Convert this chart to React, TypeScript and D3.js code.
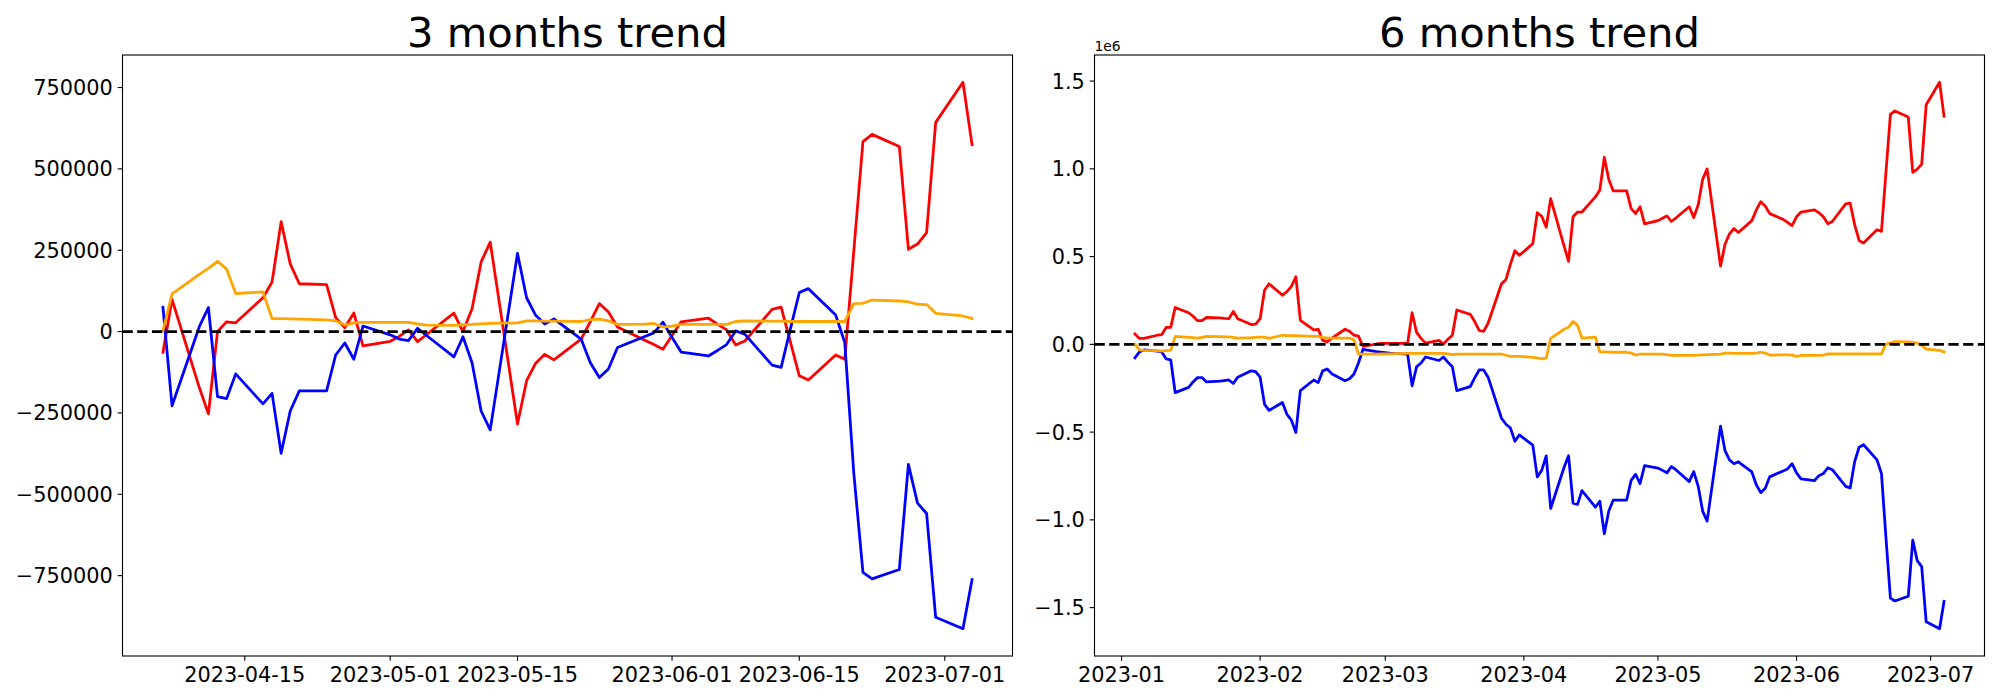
import React, { useEffect, useRef } from 'react';
import * as d3 from 'd3';

// 3 months trend
const threeMonthDates = [
  '2023-04-06', '2023-04-07', '2023-04-10', '2023-04-11', '2023-04-12', '2023-04-13', '2023-04-14',
  '2023-04-17', '2023-04-18', '2023-04-19', '2023-04-20', '2023-04-21',
  '2023-04-24', '2023-04-25', '2023-04-26', '2023-04-27', '2023-04-28',
  '2023-05-01', '2023-05-02', '2023-05-03', '2023-05-04', '2023-05-05',
  '2023-05-08', '2023-05-09', '2023-05-10', '2023-05-11', '2023-05-12',
  '2023-05-15', '2023-05-16', '2023-05-17', '2023-05-18', '2023-05-19',
  '2023-05-22', '2023-05-23', '2023-05-24', '2023-05-25', '2023-05-26',
  '2023-05-29', '2023-05-30', '2023-05-31', '2023-06-01', '2023-06-02',
  '2023-06-05', '2023-06-06', '2023-06-07', '2023-06-08', '2023-06-09',
  '2023-06-12', '2023-06-13', '2023-06-14', '2023-06-15', '2023-06-16',
  '2023-06-19', '2023-06-20', '2023-06-21', '2023-06-22', '2023-06-23',
  '2023-06-26', '2023-06-27', '2023-06-28', '2023-06-29', '2023-06-30',
  '2023-07-03', '2023-07-04',
];
const threeMonthRed = [
  -64000, 99000, -172000, -253000, 0, 30000, 27000,
  104000, 152000, 338000, 208000, 147000,
  144000, 43000, 12000, 57000, -44000,
  -30000, -15000, 5000, -31000, -9000,
  57000, 0, 70000, 214000, 275000,
  -284000, -151000, -97000, -70000, -87000,
  -23000, 30000, 86000, 60000, 14000,
  -27000, -40000, -54000, -12000, 30000,
  41000, 23000, 5000, -41000, -29000,
  68000, 75000, -30000, -136000, -149000,
  -72000, -85000, 250000, 584000, 606000,
  569000, 253000, 269000, 304000, 643000,
  766000, 574000,
];
const threeMonthBlue = [
  75000, -228000, 15000, 74000, -200000, -206000, -130000,
  -222000, -190000, -374000, -244000, -182000,
  -182000, -72000, -35000, -85000, 17000,
  -10000, -23000, -28000, 10000, -12000,
  -78000, -16000, -96000, -244000, -302000,
  240000, 104000, 50000, 23000, 39000,
  -23000, -95000, -141000, -115000, -49000,
  -15000, -4000, 29000, -18000, -63000,
  -75000, -58000, -40000, 2000, -8000,
  -103000, -110000, 6000, 120000, 132000,
  51000, -34000, -437000, -740000, -760000,
  -731000, -408000, -527000, -559000, -878000,
  -913000, -762000,
];
const threeMonthOrange = [
  2000, 116000, 176000, 194000, 216000, 192000, 117000,
  122000, 40000, 40000, 39000, 38000,
  36000, 33000, 20000, 27000, 28000,
  28000, 28000, 28000, 24000, 20000,
  19000, 21000, 22000, 24000, 25000,
  27000, 33000, 33000, 32000, 32000,
  31000, 37000, 38000, 33000, 22000,
  23000, 25000, 14000, 17000, 22000,
  22000, 22000, 22000, 31000, 33000,
  32000, 32000, 31000, 31000, 31000,
  31000, 31000, 86000, 87000, 97000,
  94000, 91000, 84000, 83000, 56000,
  48000, 40000,
];
const threeMonthXTicks = ['2023-04-15', '2023-05-01', '2023-05-15', '2023-06-01', '2023-06-15', '2023-07-01'];
const threeMonthYTicks = [-750000, -500000, -250000, 0, 250000, 500000, 750000];

// 6 months trend
const sixMonthDates = [
  '2023-01-04', '2023-01-05', '2023-01-06', '2023-01-09', '2023-01-10', '2023-01-11', '2023-01-12', '2023-01-13',
  '2023-01-16', '2023-01-17', '2023-01-18', '2023-01-19', '2023-01-20', '2023-01-23', '2023-01-24', '2023-01-25',
  '2023-01-26', '2023-01-27', '2023-01-30', '2023-01-31',
  '2023-02-01', '2023-02-02', '2023-02-03', '2023-02-06', '2023-02-07', '2023-02-08', '2023-02-09', '2023-02-10',
  '2023-02-13', '2023-02-14', '2023-02-15', '2023-02-16', '2023-02-17', '2023-02-20', '2023-02-21', '2023-02-22',
  '2023-02-23', '2023-02-24', '2023-02-27', '2023-02-28',
  '2023-03-01', '2023-03-02', '2023-03-03', '2023-03-06', '2023-03-07', '2023-03-08', '2023-03-09', '2023-03-10',
  '2023-03-13', '2023-03-14', '2023-03-15', '2023-03-16', '2023-03-17', '2023-03-20', '2023-03-21', '2023-03-22',
  '2023-03-23', '2023-03-24', '2023-03-27', '2023-03-28', '2023-03-29', '2023-03-30', '2023-03-31',
  '2023-04-03', '2023-04-04', '2023-04-05', '2023-04-06', '2023-04-07', '2023-04-10', '2023-04-11', '2023-04-12',
  '2023-04-13', '2023-04-14', '2023-04-17', '2023-04-18', '2023-04-19', '2023-04-20', '2023-04-21', '2023-04-24',
  '2023-04-25', '2023-04-26', '2023-04-27', '2023-04-28',
  '2023-05-01', '2023-05-02', '2023-05-03', '2023-05-04', '2023-05-05', '2023-05-08', '2023-05-09', '2023-05-10',
  '2023-05-11', '2023-05-12', '2023-05-15', '2023-05-16', '2023-05-17', '2023-05-18', '2023-05-19', '2023-05-22',
  '2023-05-23', '2023-05-24', '2023-05-25', '2023-05-26', '2023-05-29', '2023-05-30', '2023-05-31',
  '2023-06-01', '2023-06-02', '2023-06-05', '2023-06-06', '2023-06-07', '2023-06-08', '2023-06-09', '2023-06-12',
  '2023-06-13', '2023-06-14', '2023-06-15', '2023-06-16', '2023-06-19', '2023-06-20', '2023-06-21', '2023-06-22',
  '2023-06-23', '2023-06-26', '2023-06-27', '2023-06-28', '2023-06-29', '2023-06-30',
  '2023-07-03', '2023-07-04',
];
const sixMonthRed = [
  59000, 34000, 34000, 52000, 56000, 97000, 97000, 210000, 180000, 160000, 135000, 135000, 153000, 151000, 148000, 146000,
  187000, 146000, 113000, 115000,
  146000, 310000, 345000, 280000, 300000, 330000, 385000, 137000, 83000, 86000, 23000, 14000, 34000, 86000, 74000, 52000,
  47000, -11000, 2000, 5000,
  5000, 5000, 5000, 5000, 180000, 68000, 34000, 7000, 23000, 2000, 29000, 52000, 196000, 171000, 130000, 79000,
  74000, 120000, 345000, 370000, 457000, 534000, 507000,
  574000, 750000, 730000, 667000, 830000, 560000, 473000, 727000, 754000, 754000, 840000, 880000, 1065000, 940000, 874000, 874000,
  773000, 745000, 784000, 687000,
  705000, 718000, 732000, 700000, 720000, 784000, 723000, 795000, 940000, 1000000, 446000, 570000, 630000, 660000, 637000, 705000,
  766000, 813000, 788000, 745000, 712000, 695000, 676000,
  727000, 754000, 766000, 750000, 727000, 687000, 700000, 800000, 804000, 682000, 592000, 577000, 653000, 644000, 980000, 1310000,
  1330000, 1295000, 980000, 998000, 1027000, 1365000,
  1493000, 1300000,
];
const sixMonthBlue = [
  -77000, -43000, -32000, -38000, -43000, -83000, -88000, -275000, -245000, -214000, -189000, -189000, -214000, -210000, -206000, -203000,
  -223000, -187000, -151000, -155000,
  -187000, -342000, -376000, -331000, -399000, -432000, -502000, -264000, -203000, -218000, -151000, -140000, -167000, -207000, -196000, -169000,
  -106000, -29000, -42000, -45000,
  -47000, -50000, -52000, -56000, -236000, -128000, -106000, -72000, -92000, -72000, -101000, -128000, -264000, -241000, -191000, -146000,
  -146000, -187000, -421000, -455000, -477000, -552000, -516000,
  -574000, -755000, -718000, -635000, -935000, -700000, -635000, -905000, -912000, -833000, -928000, -894000, -1079000, -950000, -887000, -887000,
  -775000, -741000, -793000, -691000,
  -705000, -718000, -732000, -696000, -714000, -782000, -725000, -809000, -950000, -1007000, -466000, -606000, -658000, -680000, -669000, -727000,
  -800000, -845000, -820000, -755000, -721000, -710000, -680000,
  -732000, -766000, -777000, -748000, -736000, -703000, -714000, -809000, -818000, -669000, -586000, -572000, -658000, -736000, -1100000, -1446000,
  -1462000, -1435000, -1115000, -1232000, -1266000, -1581000,
  -1620000, -1464000,
];
const sixMonthOrange = [
  0, -32000, -34000, -36000, -38000, -36000, -34000, 45000, 40000, 38000, 36000, 40000, 45000, 44000, 43000, 43000,
  40000, 36000, 38000, 40000,
  41000, 41000, 34000, 52000, 50000, 50000, 49000, 48000, 46000, 45000, 40000, 36000, 36000, 36000, 36000, 25000,
  -56000, -56000, -56000, -55000,
  -54000, -54000, -53000, -52000, -52000, -52000, -52000, -52000, -52000, -52000, -54000, -58000, -56000, -56000, -56000, -56000,
  -56000, -56000, -56000, -62000, -68000, -68000, -68000,
  -74000, -77000, -83000, -79000, 34000, 86000, 97000, 131000, 108000, 36000, 41000, -43000, -43000, -44000, -45000, -45000,
  -50000, -61000, -56000, -56000,
  -56000, -56000, -58000, -63000, -63000, -63000, -63000, -62000, -60000, -58000, -56000, -50000, -50000, -51000, -51000, -52000,
  -50000, -45000, -50000, -61000, -60000, -60000, -61000,
  -68000, -63000, -63000, -63000, -61000, -54000, -54000, -54000, -54000, -54000, -54000, -54000, -54000, -54000, 2000, 8000,
  16000, 14000, 12000, 7000, -5000, -27000,
  -34000, -43000,
];
const sixMonthXTicks = ['2023-01-01', '2023-02-01', '2023-03-01', '2023-04-01', '2023-05-01', '2023-06-01', '2023-07-01'];
const sixMonthYTicks = [-1500000, -1000000, -500000, 0, 500000, 1000000, 1500000];

const FONT = 'DejaVu Sans, Verdana, sans-serif';
const PT = 100 / 72; // matplotlib points -> px at 100 dpi
const LINE_W = 2 * PT;
const TICK_LEN = 3.5 * PT;
const TICK_PAD = 3.5 * PT;
const TICK_FONT = 15 * PT;
const TITLE_FONT = 30 * PT;

const parseDate = d3.utcParse('%Y-%m-%d');
const minus = (s: string) => s.replace('-', '\u2212');

interface PanelCfg {
  title: string;
  dates: string[];
  series: { values: number[]; color: string }[];
  box: { x0: number; x1: number; y0: number; y1: number };
  xTicks: string[];
  xFormat: (d: Date) => string;
  yTicks: number[];
  yFormat: (v: number) => string;
  offsetText?: string;
}

function drawPanel(root: d3.Selection<SVGSVGElement, unknown, null, undefined>, cfg: PanelCfg) {
  const { x0, x1, y0, y1 } = cfg.box;
  const g = root.append('g');
  const dates = cfg.dates.map(d => parseDate(d) as Date);

  // matplotlib-like autoscale with 5% margins
  const [dMin, dMax] = d3.extent(dates) as [Date, Date];
  const span = +dMax - +dMin;
  const x = d3.scaleUtc()
    .domain([new Date(+dMin - span * 0.05), new Date(+dMax + span * 0.05)])
    .range([x0, x1]);
  const all = cfg.series.flatMap(s => s.values);
  const lo = d3.min(all) as number;
  const hi = d3.max(all) as number;
  const pad = (hi - lo) * 0.05;
  const y = d3.scaleLinear().domain([lo - pad, hi + pad]).range([y1, y0]);

  // data lines
  cfg.series.forEach(s => {
    const line = d3.line<number>()
      .x((_, i) => x(dates[i]))
      .y(v => y(v));
    g.append('path')
      .attr('d', line(s.values))
      .attr('fill', 'none')
      .attr('stroke', s.color)
      .attr('stroke-width', LINE_W)
      .attr('stroke-linejoin', 'round')
      .attr('stroke-linecap', 'square');
  });

  // zero reference line
  g.append('line')
    .attr('x1', x0)
    .attr('x2', x1)
    .attr('y1', y(0))
    .attr('y2', y(0))
    .attr('stroke', '#000')
    .attr('stroke-width', LINE_W)
    .attr('stroke-dasharray', `${3.7 * LINE_W},${1.6 * LINE_W}`);

  // spines
  g.append('rect')
    .attr('x', x0)
    .attr('y', y0)
    .attr('width', x1 - x0)
    .attr('height', y1 - y0)
    .attr('fill', 'none')
    .attr('stroke', '#000')
    .attr('stroke-width', 0.8 * PT);

  // x ticks
  cfg.xTicks.forEach(t => {
    const d = parseDate(t) as Date;
    const px = x(d);
    g.append('line')
      .attr('x1', px).attr('x2', px)
      .attr('y1', y1).attr('y2', y1 + TICK_LEN)
      .attr('stroke', '#000').attr('stroke-width', 0.8 * PT);
    g.append('text')
      .attr('x', px)
      .attr('y', y1 + TICK_LEN + TICK_PAD + 0.76 * TICK_FONT)
      .attr('text-anchor', 'middle')
      .attr('font-family', FONT)
      .attr('font-size', TICK_FONT)
      .text(cfg.xFormat(d));
  });

  // y ticks
  cfg.yTicks.forEach(v => {
    const py = y(v);
    g.append('line')
      .attr('x1', x0 - TICK_LEN).attr('x2', x0)
      .attr('y1', py).attr('y2', py)
      .attr('stroke', '#000').attr('stroke-width', 0.8 * PT);
    g.append('text')
      .attr('x', x0 - TICK_LEN - TICK_PAD)
      .attr('y', py + 0.36 * TICK_FONT)
      .attr('text-anchor', 'end')
      .attr('font-family', FONT)
      .attr('font-size', TICK_FONT)
      .text(cfg.yFormat(v));
  });

  if (cfg.offsetText) {
    g.append('text')
      .attr('x', x0)
      .attr('y', y0 - 4.5)
      .attr('font-family', FONT)
      .attr('font-size', 10 * PT)
      .text(cfg.offsetText);
  }

  g.append('text')
    .attr('x', (x0 + x1) / 2)
    .attr('y', y0 - 6 * PT)
    .attr('text-anchor', 'middle')
    .attr('font-family', FONT)
    .attr('font-size', TITLE_FONT)
    .text(cfg.title);
}

export default function App() {
  const ref = useRef<SVGSVGElement | null>(null);

  useEffect(() => {
    if (!ref.current) return;
    const svg = d3.select(ref.current);
    svg.selectAll('*').remove();
    svg.append('rect').attr('width', 2000).attr('height', 700).attr('fill', '#fff');

    drawPanel(svg, {
      title: '3 months trend',
      dates: threeMonthDates,
      series: [
        { values: threeMonthRed, color: '#ff0000' },
        { values: threeMonthBlue, color: '#0000ff' },
        { values: threeMonthOrange, color: '#ffa500' },
      ],
      box: { x0: 122.5, x1: 1012.5, y0: 55, y1: 656 },
      xTicks: threeMonthXTicks,
      xFormat: d3.utcFormat('%Y-%m-%d'),
      yTicks: threeMonthYTicks,
      yFormat: v => minus(String(v)),
    });

    drawPanel(svg, {
      title: '6 months trend',
      dates: sixMonthDates,
      series: [
        { values: sixMonthRed, color: '#ff0000' },
        { values: sixMonthBlue, color: '#0000ff' },
        { values: sixMonthOrange, color: '#ffa500' },
      ],
      box: { x0: 1094.5, x1: 1984.5, y0: 55, y1: 656 },
      xTicks: sixMonthXTicks,
      xFormat: d3.utcFormat('%Y-%m'),
      yTicks: sixMonthYTicks,
      yFormat: v => minus((v / 1e6).toFixed(1)),
      offsetText: '1e6',
    });
  }, []);

  return (
    <svg
      ref={ref}
      width={2000}
      height={700}
      style={{ position: 'absolute', left: 0, top: 0, display: 'block' }}
    />
  );
}
